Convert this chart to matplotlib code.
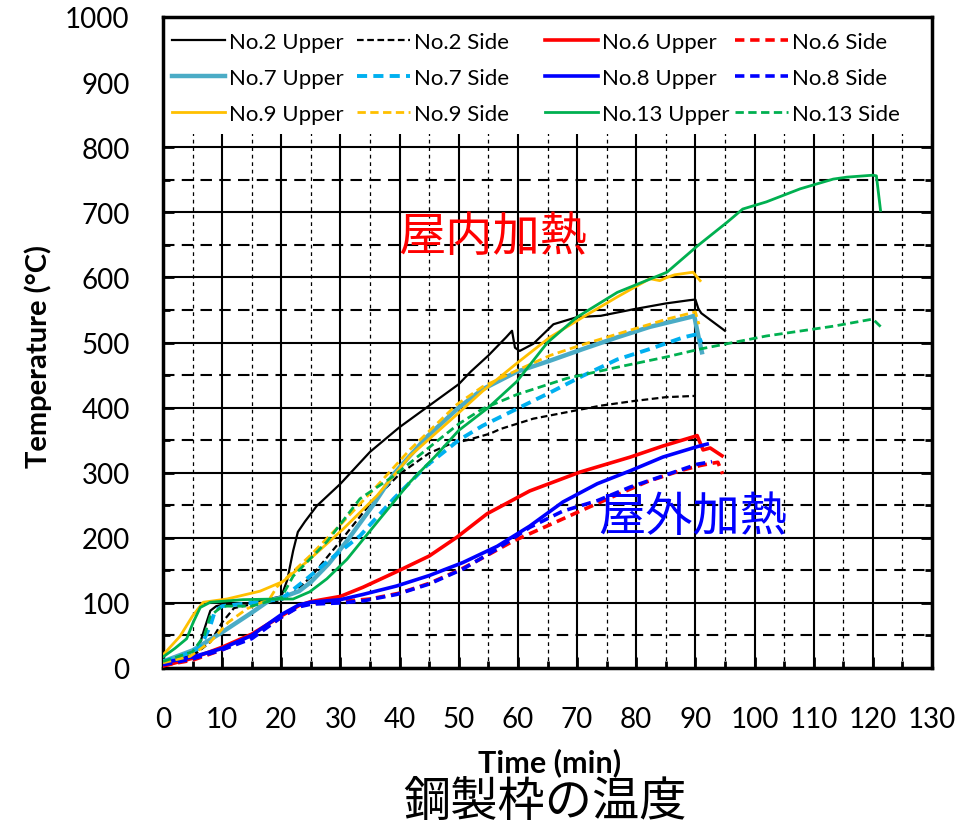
import matplotlib
matplotlib.use("Agg")
import matplotlib.pyplot as plt
from matplotlib.patches import Rectangle
import numpy as np

plt.rcParams['font.family'] = ['Lato', 'Noto Sans CJK JP', 'DejaVu Sans']

# ---------------- data ----------------
t2u = [0, 3, 5, 6, 7, 8, 9, 10, 15, 20, 21, 22, 22.8, 24, 26, 30, 35, 40, 45, 50, 52, 55, 58, 59, 59.5, 60.3, 62.6, 66, 70, 74, 79.5, 85, 89, 90, 90.5, 91, 95]
T2u = [8, 15, 20, 30, 60, 88, 95, 97, 100, 110, 135, 180, 209, 225, 249, 283, 332, 370, 403, 436, 455, 480, 508, 518, 492, 487, 498, 528, 539, 541, 551, 560, 565, 566, 552, 545, 518]

t2s = [0, 5, 8, 10, 12, 15, 20, 22, 25, 30, 35, 40, 45, 48.5, 51.4, 55.3, 57, 62.6, 68.3, 74, 79.5, 85, 90]
T2s = [8, 18, 40, 70, 92, 98, 104, 115, 140, 195, 252, 298, 330, 344, 350, 360, 367, 383, 393, 403, 410, 416, 418]

t6u = [0, 5, 10, 15, 20, 23, 25, 30, 33.8, 39.5, 45, 49.7, 54.8, 62, 70.5, 79, 84.5, 89.6, 90.3, 91.3, 92.5, 94.5]
T6u = [3, 15, 32, 52, 80, 96, 102, 110, 124, 148, 172, 201, 237, 272, 301, 324, 341, 355, 357, 335, 338, 326]

t6s = [0, 5, 10, 15, 20, 23, 25, 30, 35, 40, 45, 50, 53.6, 59.2, 64.9, 70.5, 76, 81.8, 87.4, 90.8, 92.5, 93.8, 94.3, 94.6]
T6s = [4, 12, 28, 48, 78, 95, 99, 102, 106, 115, 130, 150, 167, 195, 218, 241, 263, 286, 303, 311, 314, 316, 305, 298]

t7u = [0, 5, 10, 15, 18, 20, 23, 25, 28, 31, 35.5, 39, 44.6, 50, 54, 59.8, 65.4, 71, 76.8, 82.3, 89.1, 89.8, 90.5, 91.1]
T7u = [10, 27, 55, 85, 104, 108, 118, 132, 160, 194, 250, 298, 355, 400, 428, 455, 472, 490, 508, 524, 539, 541, 510, 485]

t7s = [0, 3, 6, 7, 8, 8.8, 10, 15, 20, 24.3, 28, 33.3, 39, 44.6, 50, 54, 59.8, 65.4, 71, 76.8, 82.3, 88, 90.4, 91]
T7s = [10, 18, 30, 45, 65, 88, 95, 100, 106, 137, 165, 203, 260, 311, 350, 372, 398, 423, 449, 474, 490, 508, 513, 500]

t8u = [0, 5, 10, 15, 20, 23, 25, 30, 33.8, 39.5, 45, 50.7, 56.5, 62, 67.6, 73.4, 79, 84.5, 90.3, 92]
T8u = [8, 17, 30, 50, 82, 97, 101, 105, 113, 126, 142, 162, 187, 218, 255, 283, 303, 324, 340, 344]

t8s = [0, 5, 10, 15, 20, 23, 25, 30, 33.8, 39.5, 45, 50.7, 56.5, 62, 67.6, 73.4, 79, 84.5, 90.3, 92.8]
T8s = [5, 14, 28, 45, 78, 94, 98, 100, 103, 113, 129, 152, 183, 216, 241, 257, 278, 295, 313, 317]

t9u = [0, 2.9, 5, 6.8, 10.8, 16.4, 20.3, 24.8, 30.4, 36.2, 41.8, 50, 54, 59.8, 65.4, 71, 76.8, 82.3, 84, 85.2, 86.5, 89.6, 90.8]
T9u = [20, 49, 80, 101, 106, 118, 133, 167, 213, 265, 326, 392, 425, 468, 508, 539, 570, 598, 595, 600, 604, 608, 595]

t9s = [0, 4.6, 8, 11, 14.2, 18, 19.3, 24.8, 30.4, 36.2, 41.8, 49.7, 54, 60, 65.4, 71, 76.8, 85.2, 90, 90.6]
T9s = [8, 18, 40, 70, 91, 106, 125, 172, 224, 280, 336, 405, 432, 458, 480, 497, 513, 536, 547, 528]

t13u = [0, 2, 4, 5.1, 6.3, 8, 13.5, 19.3, 22, 24.8, 27.7, 31.1, 36.2, 41.8, 46, 50, 55, 59.8, 65, 70, 76.8, 85.2, 90.3, 95.4, 98, 102, 107.7, 113.3, 115.6, 120, 120.6, 121.3]
T13u = [17, 30, 45, 70, 93, 101, 105, 106, 106, 117, 137, 167, 224, 286, 325, 365, 400, 440, 500, 539, 577, 608, 648, 685, 705, 716, 736, 751, 754, 757, 756, 703]

t13s = [0, 5, 7, 8, 10, 15, 20, 22, 27.7, 33.3, 39, 44.6, 50, 54, 59.8, 68.3, 76.8, 85.2, 90.8, 102, 113.3, 120, 121.7]
T13s = [10, 25, 50, 80, 95, 95, 108, 141, 194, 260, 295, 336, 375, 398, 420, 445, 462, 478, 490, 510, 525, 536, 521]

x_ticks = list(range(0, 131, 10))
y_ticks = list(range(0, 1001, 100))

# ---------------- figure ----------------
fig = plt.figure(figsize=(9.73, 8.29), dpi=100)
ax = fig.add_axes([163/973, 1-669/829, (932-163)/973, (669-18)/829])

C_BLACK = '#000000'
C_RED = '#FF0000'
C_STEEL = '#4BACC6'
C_SKY = '#00B0F0'
C_BLUE = '#0000FF'
C_GOLD = '#FFC000'
C_GREEN = '#00B050'

dash_thin = (0, (3.0, 1.6))
dash_thick = (0, (2.6, 1.6))

series = [
    ('No.2 Upper', t2u, T2u, C_BLACK, '-', 1.6),
    ('No.2 Side', t2s, T2s, C_BLACK, dash_thin, 1.6),
    ('No.6 Upper', t6u, T6u, C_RED, '-', 2.6),
    ('No.6 Side', t6s, T6s, C_RED, dash_thick, 2.6),
    ('No.7 Upper', t7u, T7u, C_STEEL, '-', 3.2),
    ('No.7 Side', t7s, T7s, C_SKY, dash_thick, 2.8),
    ('No.8 Upper', t8u, T8u, C_BLUE, '-', 2.6),
    ('No.8 Side', t8s, T8s, C_BLUE, dash_thick, 2.6),
    ('No.9 Upper', t9u, T9u, C_GOLD, '-', 2.0),
    ('No.9 Side', t9s, T9s, C_GOLD, dash_thin, 2.0),
    ('No.13 Upper', t13u, T13u, C_GREEN, '-', 2.0),
    ('No.13 Side', t13s, T13s, C_GREEN, dash_thin, 2.0),
]

handles = {}
for name, tx, ty, c, ls, lw in series:
    ln, = ax.plot(tx, ty, color=c, ls=ls, lw=lw, zorder=3, solid_joinstyle='round')
    handles[name] = ln

ax.set_xlim(0, 130)
ax.set_ylim(0, 1000)
ax.set_xticks(x_ticks)
ax.set_yticks(y_ticks)
ax.set_xticks(np.arange(5, 130, 10), minor=True)
ax.set_yticks(np.arange(50, 1000, 100), minor=True)

ax.set_axisbelow(True)
ax.grid(which='major', color='k', lw=1.5, ls='-')
ax.yaxis.grid(which='minor', color='k', lw=1.5, ls=(0, (5.5, 3.5)))
ax.xaxis.grid(which='minor', color='k', lw=0.9, ls=(0, (3, 3)))

# white box behind legend
ax.add_patch(Rectangle((0, 820), 130, 180, facecolor='white', edgecolor='none', zorder=1.5))

for s in ax.spines.values():
    s.set_linewidth(2.5)
ax.tick_params(which='both', direction='in', top=True, right=True, width=2)
ax.tick_params(which='major', length=8)
ax.tick_params(which='minor', length=5)
ax.tick_params(axis='y', which='major', labelsize=20, pad=24)
ax.tick_params(axis='x', which='major', labelsize=20, pad=27.5)

# legend: 4 columns
cols = [['No.2 Upper', 'No.7 Upper', 'No.9 Upper'],
        ['No.2 Side', 'No.7 Side', 'No.9 Side'],
        ['No.6 Upper', 'No.8 Upper', 'No.13 Upper'],
        ['No.6 Side', 'No.8 Side', 'No.13 Side']]
col_x = [178, 363, 551, 741]
for i, (names, cx) in enumerate(zip(cols, col_x)):
    leg = ax.legend([handles[n] for n in names], names, loc='upper left',
                    bbox_to_anchor=((cx - 163 - 6) / (932 - 163), 1 - (33 - 18) / (669 - 18)),
                    frameon=False, fontsize=16, handlelength=2.4, handletextpad=0.15,
                    labelspacing=0.72, borderaxespad=0, borderpad=0)
    leg.set_zorder(5)
    if i < 3:
        ax.add_artist(leg)

# annotations
ax.text(55.8, 663, '屋内加熱', color=C_RED, fontsize=34, ha='center', va='center',
        family=['Noto Sans CJK JP', 'DejaVu Sans'], zorder=6)
ax.text(89.6, 232, '屋外加熱', color=C_BLUE, fontsize=34, ha='center', va='center',
        family=['Noto Sans CJK JP', 'DejaVu Sans'], zorder=6)

# axis labels
fig.text(38/973, 1 - 357/829, 'Temperature (°C)', rotation=90, ha='center', va='center',
         fontsize=21, fontweight='bold')
fig.text(550/973, 1 - 763/829, 'Time (min)', ha='center', va='center',
         fontsize=22, fontweight='bold')
fig.text(545/973, 1 - 803/829, '鋼製枠の温度', ha='center', va='center', fontsize=34,
         family=['Noto Sans CJK JP', 'DejaVu Sans'])

fig.savefig('out.png', dpi=100)
